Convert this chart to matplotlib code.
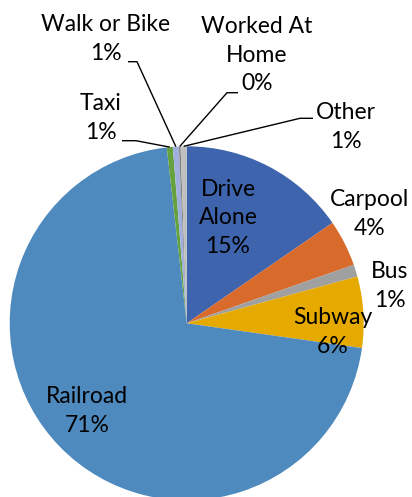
import matplotlib
matplotlib.use("Agg")
import matplotlib.pyplot as plt
import numpy as np

# commute mode shares (clockwise from 12 o'clock)
modes = ["Drive\nAlone", "Carpool", "Bus", "Subway", "Railroad",
         "Taxi", "Walk or Bike", "Worked At\nHome", "Other"]
shares = [15.4, 4.25, 1.1, 6.5, 71.0, 0.55, 0.55, 0.15, 0.55]
pct_labels = ["15%", "4%", "1%", "6%", "71%", "1%", "1%", "0%", "1%"]
colors = ["#3E64AD", "#D86A2B", "#A0A0A0", "#E5A900", "#4F8ABF",
          "#65A23F", "#A0B0DC", "#7F7F7F", "#C0C0C0"]

W, H = 412, 497
# label block centres, in pixels from top-left
label_pos = [(228, 218), (370, 214), (390, 286), (333, 332), (87, 411),
             (101, 118), (106, 39), (257, 55), (346, 127)]
# elbow of leader lines (label end, bend) for the tiny slices
leaders = {5: [(122, 140.7), (136, 140.7)],
           6: [(128, 61.7), (137, 61.7)],
           7: [(238, 92.7), (227, 92.7)],
           8: [(313, 118.3), (300, 118.3)]}

plt.rcParams['font.family'] = ['Lato', 'DejaVu Sans']

fig = plt.figure(figsize=(W / 100, H / 100), dpi=100)
ax = fig.add_axes([0, 0, 1, 1])

cx, cy, r = 186.7, H - 323.3, 177
wedges, _ = ax.pie(shares, colors=colors, startangle=90, counterclock=False,
                   radius=r, center=(cx, cy), wedgeprops=dict(linewidth=0))

for i, (name, pct) in enumerate(zip(modes, pct_labels)):
    x, y = label_pos[i]
    ax.text(x, H - y, name + "\n" + pct, ha='center', va='center',
            fontsize=16.5, linespacing=1.42, color='black')
    if i in leaders:
        w = wedges[i]
        mid = np.deg2rad((w.theta1 + w.theta2) / 2)
        ex, ey = cx + r * np.cos(mid), cy + r * np.sin(mid)
        pts = leaders[i]
        xs = [p[0] for p in pts] + [ex]
        ys = [H - p[1] for p in pts] + [ey]
        ax.plot(xs, ys, color='black', lw=1.0, solid_capstyle='butt')

ax.set_xlim(0, W)
ax.set_ylim(0, H)
ax.set_aspect('equal')
ax.axis('off')

plt.savefig('out.png', dpi=100)
